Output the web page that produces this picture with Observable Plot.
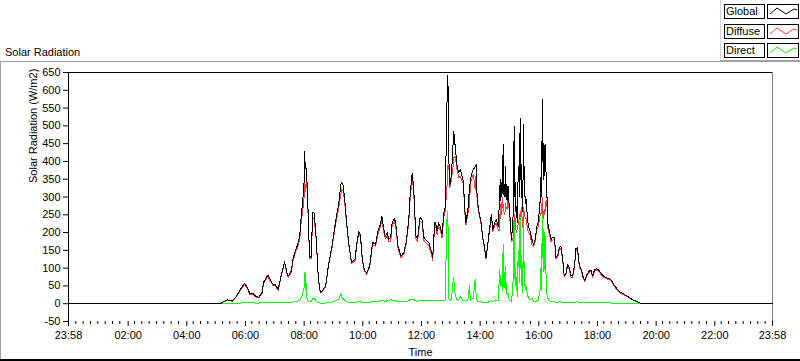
<!DOCTYPE html>
<html><head><meta charset="utf-8">
<script src="https://cdn.jsdelivr.net/npm/d3@7"></script>
<script src="https://cdn.jsdelivr.net/npm/@observablehq/plot@0.6"></script>
<style>
body{margin:0;background:#fff;font-family:"Liberation Sans",Arial,sans-serif;}
#wrap{position:relative;width:800px;height:361px;overflow:hidden;background:#fff}
#header{position:relative;height:61px;}
#title{position:absolute;left:5px;top:46px;font-size:11px;line-height:13px;white-space:nowrap}
.lg-label{position:absolute;left:724px;width:38px;height:13px;border:1px solid #000;font-size:11px;line-height:13px;padding-left:1px;white-space:nowrap}
.lg-sw{position:absolute;left:767px;width:30px;height:13px;border:1px solid #000}
.lg-sw svg{display:block}
.ln{position:absolute;pointer-events:none}
#chart svg{display:block}
</style>
</head><body>
<div id="wrap">
  <div id="header">
    <div id="title">Solar Radiation</div>
    <div class="ln" style="left:720px;top:0;width:1px;height:60px;background:#d4d4d4"></div>
    <div class="ln" style="left:720px;top:60px;width:80px;height:1px;background:#a0a0a0"></div>
    <div id="legend"></div>
  </div>
  <div id="chart"></div>
  <div class="ln" style="left:0;top:61px;width:800px;height:1px;background:#a0a0a0"></div>
  <div class="ln" style="left:0;top:61px;width:1px;height:300px;background:#a0a0a0"></div>
  <div class="ln" style="left:0;top:359px;width:800px;height:2px;background:#000"></div>
</div>
<script>
// ---- data ----
const seriesNames = ["Global", "Diffuse", "Direct"];
const seriesColors = ["#000000", "#ff3c3c", "#00ff00"];
const yTicks = [-50, 0, 50, 100, 150, 200, 250, 300, 350, 400, 450, 500, 550, 600, 650];
const xTickLabels = ["23:58", "02:00", "04:00", "06:00", "08:00", "10:00", "12:00", "14:00", "16:00", "18:00", "20:00", "22:00", "23:58"];
const times = ["00:00","05:08","05:15","05:23","05:33","05:41","05:50","05:58","06:03","06:09","06:15","06:20","06:27","06:34","06:37","06:46","06:51","06:56","07:01","07:07","07:12","07:20","07:24","07:27","07:34","07:37","07:42","07:47","07:51","07:54","07:57","08:00","08:01","08:02","08:03","08:05","08:07","08:09","08:12","08:15","08:17","08:20","08:23","08:25","08:29","08:33","08:38","08:44","08:50","08:57","09:04","09:11","09:15","09:17","09:20","09:23","09:27","09:31","09:37","09:44","09:48","09:52","09:55","09:59","10:03","10:08","10:14","10:20","10:26","10:31","10:36","10:39","10:43","10:46","10:50","10:53","10:57","11:00","11:05","11:08","11:12","11:18","11:24","11:29","11:34","11:37","11:41","11:44","11:46","11:49","11:52","11:57","12:01","12:05","12:09","12:15","12:20","12:23","12:27","12:29","12:32","12:35","12:39","12:42","12:46","12:49","12:51","12:53","12:54","12:56","12:58","13:01","13:04","13:05","13:06","13:09","13:13","13:16","13:20","13:23","13:26","13:28","13:31","13:35","13:38","13:40","13:42","13:46","13:50","13:52","13:54","13:58","14:02","14:05","14:09","14:12","14:15","14:20","14:23","14:26","14:30","14:33","14:37","14:40","14:41","14:42","14:43","14:44","14:45","14:46","14:47","14:48","14:49","14:50","14:51","14:52","14:53","14:54","14:55","14:57","14:59","15:02","15:04","15:07","15:08","15:09","15:10","15:11","15:12","15:13","15:14","15:16","15:17","15:19","15:20","15:21","15:22","15:23","15:24","15:25","15:26","15:27","15:28","15:29","15:30","15:31","15:32","15:34","15:37","15:39","15:42","15:46","15:49","15:52","15:56","15:59","16:03","16:05","16:06","16:07","16:08","16:09","16:10","16:11","16:12","16:13","16:14","16:15","16:17","16:19","16:22","16:25","16:28","16:32","16:35","16:39","16:42","16:45","16:49","16:52","16:55","16:59","17:02","17:06","17:09","17:13","17:16","17:19","17:23","17:27","17:30","17:34","17:37","17:42","17:47","17:50","17:54","17:58","18:02","18:07","18:13","18:20","18:27","18:33","18:40","18:47","18:54","19:01","19:07","19:14","19:21","19:27","19:35","23:58"];
const globalVals = [0,0,5,11,8,20,41,57,48,29,30,22,18,32,60,81,66,55,53,41,74,118,92,77,92,125,148,167,190,246,288,344,428,380,396,364,316,204,130,134,256,256,218,176,74,32,38,50,111,162,228,284,335,340,332,293,228,172,116,125,172,203,195,125,95,86,106,172,167,204,223,246,209,190,200,181,186,228,240,218,162,134,144,176,237,312,366,330,265,186,183,242,237,186,179,172,148,130,228,228,204,228,214,195,256,274,512,600,643,405,335,358,433,460,484,442,386,368,377,358,344,274,228,265,321,345,363,377,386,391,293,256,228,190,158,130,162,218,251,209,228,237,218,302,350,290,330,300,358,310,447,330,300,335,300,386,320,335,290,330,284,228,181,228,300,442,498,300,340,260,274,228,330,386,300,480,350,522,300,358,260,274,380,503,300,386,280,293,237,218,204,181,167,176,218,228,293,377,300,573,400,452,350,445,360,447,433,349,293,218,204,181,186,186,130,139,158,162,125,78,83,111,102,78,78,106,155,158,106,97,78,64,78,90,95,78,95,99,95,86,77,72,69,55,41,32,27,21,15,10,6,2,0,0];
const diffuseVals = [0,0,5,10,7,19,39,54,45,26,27,20,16,29,56,77,63,52,50,38,71,114,89,74,88,120,142,160,180,230,260,300,340,335,315,340,305,198,125,128,242,240,208,170,71,30,36,48,108,157,220,272,308,320,318,283,221,168,113,121,167,197,190,121,92,83,102,166,161,197,215,237,201,183,192,174,175,219,231,210,156,129,139,170,228,300,352,318,255,179,176,233,228,178,171,164,140,122,219,219,195,219,205,186,246,263,310,345,390,385,325,345,380,390,410,415,375,355,358,345,335,266,221,255,275,333,350,362,320,370,285,250,223,186,155,127,158,212,243,202,220,227,208,205,280,240,260,250,300,270,280,270,255,250,260,282,270,270,265,300,270,218,176,180,200,220,250,230,240,210,200,210,220,230,240,250,245,260,250,270,230,215,240,270,250,260,240,240,210,200,194,165,160,170,210,218,250,255,260,300,270,240,260,250,265,260,280,290,270,205,195,174,179,180,125,134,152,156,120,75,80,107,98,75,75,102,150,153,102,93,75,61,75,86,91,75,91,95,91,83,74,69,67,53,39,30,25,20,14,9,5,2,0,0];
const directVals = [0,0,0,1,1,1,2,3,3,3,3,2,2,3,4,4,3,3,3,3,3,4,3,3,4,5,6,7,10,16,28,46,88,40,86,20,10,6,5,6,14,16,10,6,3,2,2,2,3,5,8,13,29,20,14,10,7,4,3,4,5,6,5,4,3,3,4,6,6,7,8,9,8,7,8,7,12,9,9,8,6,5,5,6,9,12,13,12,10,7,7,9,9,8,8,8,8,8,9,9,9,9,9,9,10,11,200,260,250,15,10,12,50,74,70,25,10,12,20,12,8,8,7,10,50,10,12,15,69,20,8,6,5,4,3,3,4,6,8,7,8,10,10,97,70,50,69,50,60,40,167,60,45,88,40,106,50,60,25,30,14,10,5,50,100,230,250,70,100,50,74,20,110,150,60,230,100,260,50,90,30,60,140,230,50,120,40,50,25,15,10,16,7,6,8,10,40,120,40,270,130,210,90,200,95,190,150,60,20,14,8,6,6,5,4,4,5,5,4,3,3,4,4,3,3,4,5,5,4,4,3,3,3,4,4,3,4,4,4,3,3,3,2,2,2,2,2,1,1,1,1,0,0,0];

// ---- build ----
const toH = t => { const [h, m] = t.split(":").map(Number); return h + m / 60; };
const xStart = -2 / 60, xEnd = 24 - 2 / 60;
const tickPos = xTickLabels.map((s, i) => i === 0 ? xStart : i === xTickLabels.length - 1 ? xEnd : toH(s));
const labelOf = new Map(tickPos.map((p, i) => [p, xTickLabels[i]]));
const minor = d3.range(0, 96).map(k => xStart + k * 0.25).filter((v, k) => k % 8 !== 0 && v < xEnd);
const rows = times.map((t, i) => ({t: toH(t), Global: globalVals[i], Diffuse: diffuseVals[i], Direct: directVals[i]}));

const font = "'Liberation Sans', Arial, sans-serif";
const crisp = {shapeRendering: "crispEdges"};
const chart = Plot.plot({
  width: 800, height: 300,
  marginLeft: 68, marginRight: 28, marginTop: 11, marginBottom: 40,
  style: {fontFamily: font, fontSize: "11px", color: "#000", background: "transparent", overflow: "visible"},
  x: {domain: [xStart, xEnd]},
  y: {domain: [-50, 650]},
  marks: [
    Plot.ruleY([650], {stroke: "#000", ...crisp}),
    Plot.ruleX([xEnd], {stroke: "#808080", ...crisp}),
    Plot.line(rows, {x: "t", y: "Direct", stroke: seriesColors[2], strokeWidth: 1, ...crisp}),
    Plot.line(rows, {x: "t", y: "Diffuse", stroke: seriesColors[1], strokeWidth: 1, ...crisp}),
    Plot.line(rows, {x: "t", y: "Global", stroke: seriesColors[0], strokeWidth: 1, ...crisp}),
    Plot.ruleX([xStart], {stroke: "#000", ...crisp}),
    Plot.axisY({ticks: yTicks, tickSize: 5, tickPadding: 3, label: null, tickFormat: d => String(d)}),
    Plot.axisX({ticks: tickPos, tickSize: 5, tickPadding: 5, label: null, tickFormat: d => labelOf.get(d)}),
    Plot.axisX({ticks: minor, tickSize: 3, label: null, tickFormat: () => ""}),
    Plot.text(["Time"], {frameAnchor: "bottom", dy: 31, lineAnchor: "middle"}),
    Plot.text(["Solar Radiation (W/m2)"], {frameAnchor: "left", dx: -35.5, dy: -14, rotate: -90, lineAnchor: "middle"})
  ]
});
document.getElementById("chart").appendChild(chart);

// legend
const legend = document.getElementById("legend");
seriesNames.forEach((name, i) => {
  const top = 4 + i * 19.5;
  const lab = document.createElement("div");
  lab.className = "lg-label";
  lab.style.top = top + "px";
  lab.textContent = name;
  legend.appendChild(lab);
  const sw = document.createElement("div");
  sw.className = "lg-sw";
  sw.style.top = top + "px";
  sw.innerHTML = `<svg width="30" height="13"><polyline points="2,9 9,3 18,9 26,4 29,5" fill="none" stroke="${seriesColors[i]}" stroke-width="1"/></svg>`;
  legend.appendChild(sw);
});
</script>
</body></html>
